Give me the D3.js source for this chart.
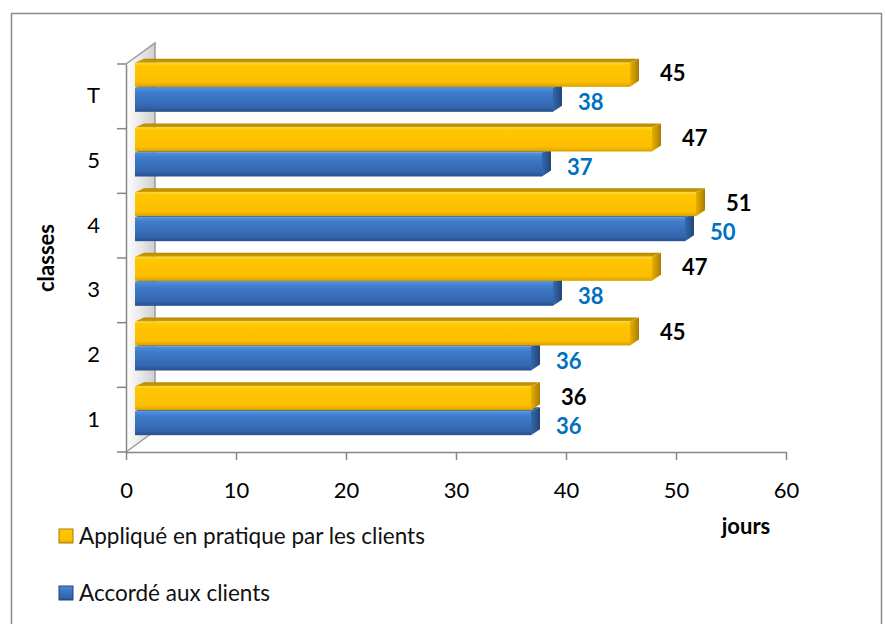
<!DOCTYPE html>
<html>
<head>
<meta charset="utf-8">
<script src="https://cdn.jsdelivr.net/npm/d3@7"></script>
<style>
  body { margin: 0; background: #fff; }
  text { font-family: Lato, "Open Sans", sans-serif; }
</style>
</head>
<body>
<div id="plot"></div>
<script>
const categories = ["T", "5", "4", "3", "2", "1"];
const applique = [45, 47, 51, 47, 45, 36];
const accorde = [38, 37, 50, 38, 36, 36];
const xTicks = [0, 10, 20, 30, 40, 50, 60];
const seriesNames = ["Appliqué en pratique par les clients", "Accordé aux clients"];

const W = 885, H = 624;
const svg = d3.select("#plot").append("svg")
  .attr("width", W).attr("height", H);

// gradients
const defs = svg.append("defs");
function grad(id, stops, horiz) {
  const g = defs.append("linearGradient").attr("id", id)
    .attr("x1", 0).attr("y1", 0)
    .attr("x2", horiz ? 1 : 0).attr("y2", horiz ? 0 : 1);
  stops.forEach(s => g.append("stop").attr("offset", s[0]).attr("stop-color", s[1]));
}
grad("yFront", [[0, "#FFD633"], [0.12, "#FFC600"], [0.8, "#FCBE00"], [1, "#D9A200"]]);
grad("yTop", [[0, "#B58800"], [1, "#CFA000"]]);
grad("yCap", [[0, "#E8B000"], [1, "#A87D00"]], true);
grad("bFront", [[0, "#4F90DC"], [0.2, "#3F7DCB"], [0.8, "#3465AE"], [1, "#28508C"]]);
grad("bTop", [[0, "#2A5690"], [1, "#3A6CB0"]]);
grad("bCap", [[0, "#3568AA"], [1, "#22467A"]], true);
grad("wall", [[0, "#ffffff"], [0.5, "#e8e8e8"], [1, "#cfcfcf"]], true);

// chart frame
svg.append("rect")
  .attr("x", 11.5).attr("y", 13.5).attr("width", 870).attr("height", 640)
  .attr("fill", "#fff").attr("stroke", "#8a8a8a").attr("stroke-width", 1.5);

const plotLeft = 126, plotBottom = 452, plotTop = 64;
const x = d3.scaleLinear().domain([0, 60]).range([plotLeft, 786]);
const y = d3.scaleBand().domain(categories).range([plotTop, plotBottom]);

// side wall (3D)
const wdx = 29, wdy = 21;
svg.append("path")
  .attr("d", `M${plotLeft},${plotTop} L${plotLeft + wdx},${plotTop - wdy} L${plotLeft + wdx},${plotBottom - wdy} L${plotLeft},${plotBottom} Z`)
  .attr("fill", "url(#wall)");
svg.append("path")
  .attr("d", `M${plotLeft},${plotTop} L${plotLeft + wdx},${plotTop - wdy} L${plotLeft + wdx},${plotBottom - wdy}`)
  .attr("fill", "none").attr("stroke", "#9a9a9a").attr("stroke-width", 1.5);
svg.append("line")
  .attr("x1", plotLeft).attr("y1", plotBottom).attr("x2", plotLeft + wdx).attr("y2", plotBottom - wdy)
  .attr("stroke", "#9a9a9a").attr("stroke-width", 1.5);

// bars
const offX = 9, offY = -9, bh = 24, gap = 1, dx = 9, dy = 4;
function bar(g, x0, x1, yt, pre) {
  g.append("path")
    .attr("d", `M${x0},${yt} L${x0 + dx},${yt - dy} L${x1 + dx},${yt - dy} L${x1},${yt} Z`)
    .attr("fill", `url(#${pre}Top)`);
  g.append("path")
    .attr("d", `M${x1},${yt} L${x1 + dx},${yt - dy} L${x1 + dx},${yt + bh - dy - 2} L${x1},${yt + bh} Z`)
    .attr("fill", `url(#${pre}Cap)`);
  g.append("rect")
    .attr("x", x0).attr("y", yt).attr("width", x1 - x0).attr("height", bh)
    .attr("fill", `url(#${pre}Front)`);
}

const barsG = svg.append("g");
categories.forEach((c, i) => {
  const mid = y(c) + y.bandwidth() / 2 + offY;
  const yTop = mid - bh - gap / 2;
  const yBot = mid + gap / 2;
  bar(barsG, x(0) + offX, x(accorde[i]) + offX, yBot, "b");
  bar(barsG, x(0) + offX, x(applique[i]) + offX, yTop, "y");
});

// data labels
const labels = svg.append("g").style("font-weight", "bold").style("font-size", "22px");
labels.selectAll(".ly").data(categories).join("text")
  .attr("x", (c, i) => x(applique[i]) + 39)
  .attr("y", c => y(c) + y.bandwidth() / 2 - 23)
  .attr("dy", "0.36em")
  .attr("fill", "#000")
  .text((c, i) => applique[i]);
labels.selectAll(".lb").data(categories).join("text")
  .attr("x", (c, i) => x(accorde[i]) + 34)
  .attr("y", c => y(c) + y.bandwidth() / 2 + 6)
  .attr("dy", "0.36em")
  .attr("fill", "#0070C0")
  .text((c, i) => accorde[i]);

// x axis
const xAxis = svg.append("g")
  .attr("transform", `translate(0,${plotBottom})`)
  .call(d3.axisBottom(x).tickValues(xTicks).tickSize(8).tickPadding(22).tickSizeOuter(0));
xAxis.select(".domain").attr("stroke", "#868686").attr("stroke-width", 1.5);
xAxis.selectAll(".tick line").attr("stroke", "#868686").attr("stroke-width", 1.5);
xAxis.selectAll("text").attr("font-size", "22px").attr("font-family", "Lato, sans-serif").attr("fill", "#000");

// y axis
const yAxis = svg.append("g")
  .attr("transform", `translate(${plotLeft},0)`)
  .call(d3.axisLeft(y).tickSize(0).tickPadding(26));
yAxis.select(".domain").attr("stroke", "#868686").attr("stroke-width", 1.5);
yAxis.selectAll("text").attr("font-size", "22px").attr("font-family", "Lato, sans-serif").attr("fill", "#000");
const bounds = categories.map(c => y(c)).concat([plotBottom]);
yAxis.selectAll(".bound").data(bounds).join("line")
  .attr("x1", -9).attr("x2", 0)
  .attr("y1", d => d).attr("y2", d => d)
  .attr("stroke", "#868686").attr("stroke-width", 1.5);

// axis titles
svg.append("text")
  .attr("transform", "translate(46,258) rotate(-90)")
  .attr("text-anchor", "middle").attr("dy", "0.35em")
  .style("font-weight", "bold").style("font-size", "22px")
  .text("classes");
svg.append("text")
  .attr("x", 746).attr("y", 526)
  .attr("text-anchor", "middle").attr("dy", "0.35em")
  .style("font-weight", "bold").style("font-size", "22px")
  .text("jours");

// legend
const legend = svg.append("g");
const legendY = [536, 593];
const legendFill = ["y", "b"];
seriesNames.forEach((name, i) => {
  const g = legend.append("g").attr("transform", `translate(59,${legendY[i]})`);
  g.append("rect").attr("x", 0).attr("y", -7).attr("width", 14).attr("height", 14)
    .attr("fill", `url(#${legendFill[i]}Front)`)
    .attr("stroke", legendFill[i] === "y" ? "#A87D00" : "#22467A").attr("stroke-width", 1);
  g.append("text").attr("x", 20).attr("y", 0).attr("dy", "0.35em")
    .style("font-size", "22.5px").attr("fill", "#111")
    .text(name);
});
</script>
</body>
</html>
